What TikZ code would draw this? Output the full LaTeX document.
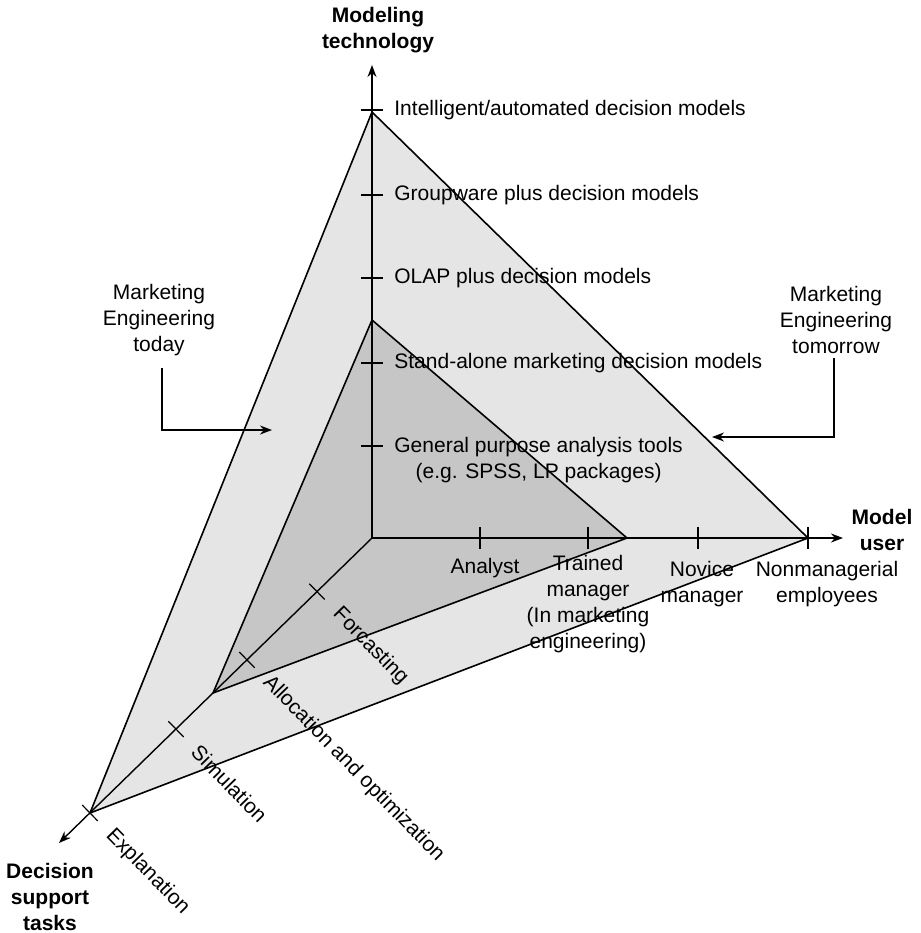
\documentclass[tikz,border=0pt]{standalone}
\usepackage{fontspec}
\setmainfont{Liberation Sans}
\usepackage{tikz}
\usetikzlibrary{arrows.meta,calc}
\definecolor{shadeout}{RGB}{229,229,229}
\definecolor{shadein}{RGB}{198,198,198}
\tikzset{
  edge/.style  ={draw=black, line width=0.8pt, line join=round},
  axis/.style  ={draw=black, line width=0.7pt, -{Stealth[length=6pt,width=4.5pt]}},
  tick/.style  ={draw=black, line width=0.6pt},
  lab/.style   ={font=\fontsize{10.5}{13}\selectfont, inner sep=0pt, align=center},
  axlab/.style ={font=\fontsize{10.5}{13}\selectfont\bfseries, inner sep=0pt, align=center},
  task/.style  ={lab, anchor=west, rotate=-45.7},
  ar/.style    ={-{Stealth[length=6pt,width=4.5pt]}, draw=black, line width=0.7pt},
}
\begin{document}
\begin{tikzpicture}[x=0.5pt,y=-0.5pt]
\useasboundingbox (0,0) rectangle (921,933);
% corners of the two pyramids
\coordinate (O)  at (372,538);
\coordinate (T2) at (372,112);
\coordinate (R2) at (808,538);
\coordinate (B2) at (90,813);
\coordinate (T1) at (372,320);
\coordinate (R1) at (627,538);
\coordinate (B1) at (213,693);
\fill[shadeout] (T2) -- (R2) -- (B2) -- cycle;
\fill[shadein] (T1) -- (R1) -- (B1) -- cycle;
\draw[edge] (T2) -- (R2) -- (B2) -- cycle;
\draw[edge] (T1) -- (R1) -- (B1) -- cycle;
% axes
\coordinate (vend) at (372,65);
\coordinate (hend) at (843,538);
\coordinate (dend) at (59,843);
\draw[axis] (O) -- (vend);
\draw[axis] (O) -- (hend);
\draw[axis] (O) -- (dend);
\node[axlab] (modtech) at (378,30) {Modeling\\technology};
\node[axlab] (moduser) at (882,530) {Model\\user};
\node[axlab] (dstasks) at (50,897) {Decision\\support\\tasks};
% modeling technology
\foreach \y in {110,195,278,363,446}{
  \draw[tick] (361,\y) -- (383,\y);
}
\node[lab,anchor=west] (intel) at (394,110) {Intelligent/automated decision models};
\node[lab,anchor=west] (group) at (394,195) {Groupware plus decision models};
\node[lab,anchor=west] (olap)  at (394,278) {OLAP plus decision models};
\node[lab,anchor=west] (stand) at (394,363) {Stand-alone marketing decision models};
\node[lab,anchor=west] (gener) at (394,460) {General purpose analysis tools\\(e.g. SPSS, LP packages)};
% model user
\foreach \x in {480,588,698,808}{
  \draw[tick] (\x,527) -- (\x,549);
}
\node[lab] (analyst) at (485,568) {Analyst};
\node[lab] (trained) at (588,604) {Trained\\manager\\(In marketing\\engineering)};
\node[lab] (novice)  at (702,584) {Novice\\manager};
\node[lab] (nonman)  at (827,584) {Nonmanagerial\\employees};
% decision support tasks
\foreach \x/\y/\lab [count=\i] in {317/591.6/Forcasting, 247/659.9/Allocation and optimization,
                                   176/729.1/Simulation, 90/813/Explanation}{
  \draw[tick] (\x-7.7,\y-7.9) -- (\x+7.7,\y+7.9);
  \node[task] (task\i) at (\x+18.9,\y+19.3) {\lab};
}
% callouts
\node[lab] (today)    at (159,320) {Marketing\\Engineering\\today};
\node[lab] (tomorrow) at (836,320) {Marketing\\Engineering\\tomorrow};
\coordinate (todaytip) at (272,430);
\coordinate (tomtip)   at (712,437);
\draw[ar] ([xshift=1.5pt,yshift=-6pt]today.south) |- (todaytip);
\draw[ar] ([xshift=-1pt,yshift=-2pt]tomorrow.south) |- (tomtip);
\end{tikzpicture}
\end{document}
